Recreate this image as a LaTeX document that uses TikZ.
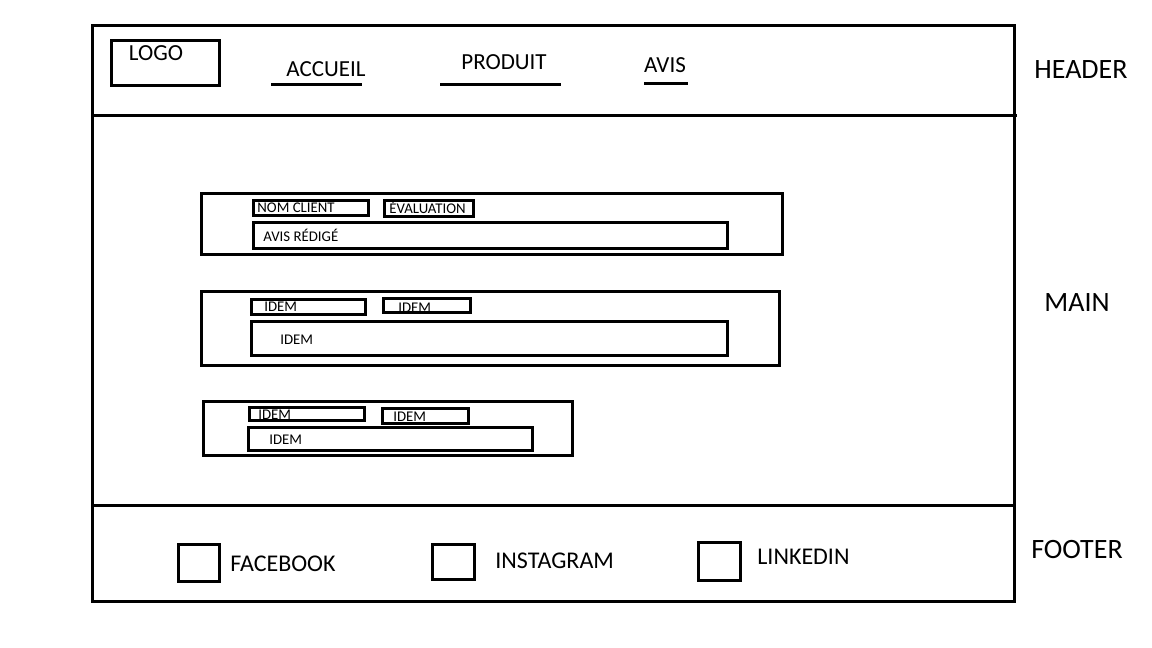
\documentclass[tikz,border=0pt]{standalone}
\usepackage{fontspec}
\setmainfont{Carlito}
\usepackage{tikz}
\usetikzlibrary{positioning}

\begin{document}
\begin{tikzpicture}[x=0.5pt,y=-0.5pt,
    frame/.style={line width=1.5pt},
    navtext/.style={font=\fontsize{11.5}{13}\selectfont, inner sep=0pt, anchor=base},
    zonetext/.style={font=\fontsize{14}{16}\selectfont, inner sep=0pt, anchor=base},
    cardtext/.style={font=\fontsize{7.4}{8}\selectfont, inner sep=0pt, anchor=base west},
    socialtext/.style={font=\fontsize{12}{14}\selectfont, inner sep=0pt, anchor=base west}]
    \useasboundingbox (0,0) rectangle (1152,648);

    % page frame, header and footer bands
    \draw[frame] (92,25) rectangle (1014,601);
    \draw[frame] (92,115) -- (1017,115);
    \draw[frame] (92,505) -- (1014,505);

    % header
    \draw[frame] (111,40) rectangle (219,85);
    \node[navtext] (logo) at (156,61) {LOGO};
    \node[navtext] (accueil) at (326,76) {ACCUEIL};
    \node[navtext] (produit) at (504,69) {PRODUIT};
    \node[navtext] (avis) at (665,72) {AVIS};
    \draw[frame] (271,84) -- (362,84);
    \draw[frame] (440,84) -- (561,84);
    \draw[frame] (644,83) -- (688,83);

    % zone names
    \node[zonetext] (header) at (1081,78) {HEADER};
    \node[zonetext] (main) at (1077,311) {MAIN};
    \node[zonetext] (footer) at (1077,558) {FOOTER};

    % first review card
    \draw[frame] (201,193) rectangle (782,254);
    \draw[frame] (253,200) rectangle (368,215);
    \draw[frame] (384,200) rectangle (473,216);
    \draw[frame] (253,222) rectangle (727,248);
    \node[cardtext] (nom) at (257,212) {NOM CLIENT};
    \node[cardtext] (eval) at (389,213.5) {ÉVALUATION};
    \node[cardtext] (redige) at (263,241.5) {AVIS RÉDIGÉ};

    % second review card
    \draw[frame] (201,291) rectangle (779,365);
    \draw[frame] (251,299) rectangle (365,314);
    \draw[frame] (383,298) rectangle (470,312);
    \draw[frame] (251,321) rectangle (727,355);
    \node[cardtext] (nomb) at (264,311) {IDEM};
    \node[cardtext] (evalb) at (398,312) {IDEM};
    \node[cardtext] (redigeb) at (280,344) {IDEM};

    % third review card
    \draw[frame] (203,401) rectangle (572,455);
    \draw[frame] (249,407) rectangle (364,420);
    \draw[frame] (382,408) rectangle (468,423);
    \draw[frame] (248,427) rectangle (532,450);
    \node[cardtext] (nomc) at (258,419) {IDEM};
    \node[cardtext] (evalc) at (393,421) {IDEM};
    \node[cardtext] (redigec) at (269,444) {IDEM};

    % footer links
    \draw[frame] (178,544) rectangle (219,581);
    \draw[frame] (432,544) rectangle (474,579);
    \draw[frame] (698,542) rectangle (740,580);
    \node[socialtext] (facebook) at (230,571) {FACEBOOK};
    \node[socialtext] (instagram) at (495,568) {INSTAGRAM};
    \node[socialtext] (linkedin) at (757,564) {LINKEDIN};
\end{tikzpicture}
\end{document}
